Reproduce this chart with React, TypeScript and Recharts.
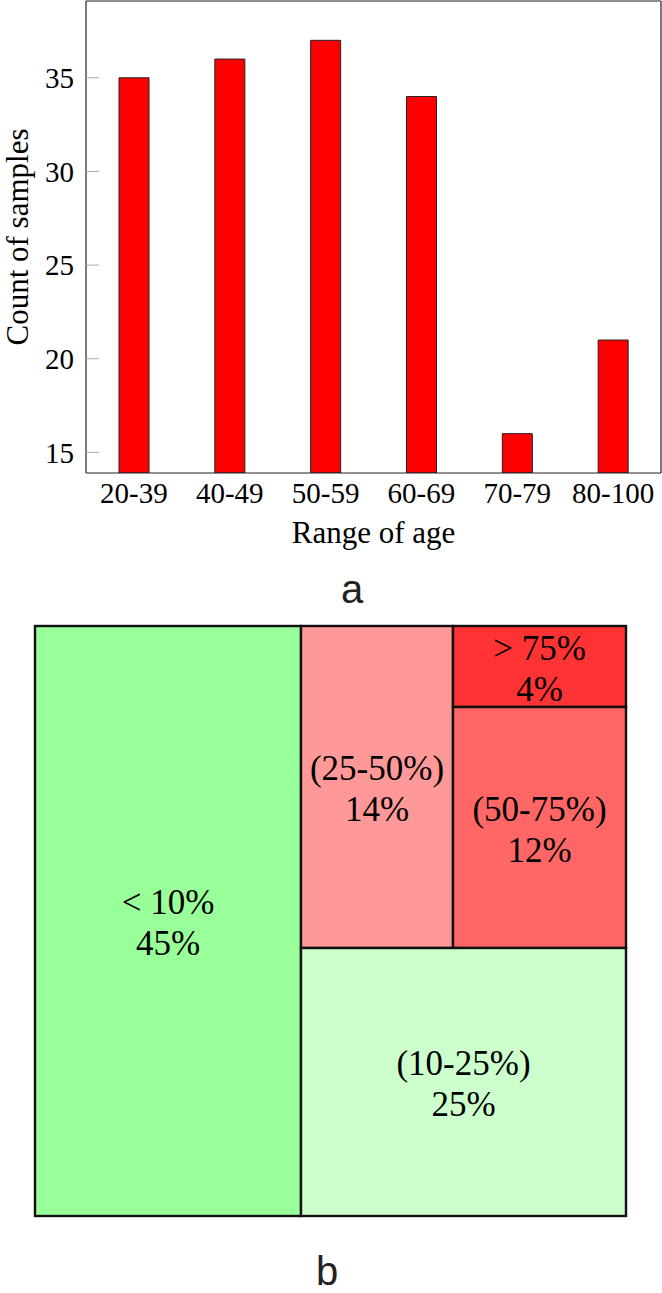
import React from 'react';
import { BarChart, Bar, XAxis, YAxis, Treemap } from 'recharts';

// ---- data: panel a ----
const ageRanges = ['20-39', '40-49', '50-59', '60-69', '70-79', '80-100'];
const sampleCounts = [35, 36, 37, 34, 16, 21];
const yTicks = [15, 20, 25, 30, 35];
const yDomain: [number, number] = [13.9, 39.1];

// ---- data: panel b ----
const treeLabels = ['< 10%', '(10-25%)', '(25-50%)', '(50-75%)', '> 75%'];
const treeShares = [45, 25, 14, 12, 4];

// ---- styles ----
const SERIF = "'Liberation Serif', 'Times New Roman', serif";
const SANS = "'Liberation Sans', Arial, sans-serif";
const TREE_FILL: Record<string, string> = {
  '< 10%': '#99FF99',
  '(10-25%)': '#CCFFCC',
  '(25-50%)': '#FF9999',
  '(50-75%)': '#FF6666',
  '> 75%': '#FF3333',
};

const barData = ageRanges.map((cat, i) => ({ cat, count: sampleCounts[i] }));

const leaf = (i: number) => ({ name: treeLabels[i], value: treeShares[i] });
const treeData = [
  leaf(0),
  {
    name: 'rest',
    children: [
      { name: 'upper', children: [leaf(2), { name: 'high', children: [leaf(4), leaf(3)] }] },
      leaf(1),
    ],
  },
];

const YLabel = (props: any) => {
  const vb = props.viewBox || { x: 0, y: 1, width: 86, height: 472 };
  const x = vb.x + 28;
  const y = vb.y + vb.height / 2;
  return (
    <text
      x={x}
      y={y}
      transform={`rotate(-90 ${x} ${y})`}
      textAnchor="middle"
      fontFamily={SERIF}
      fontSize={31}
      fill="#000"
    >
      Count of samples
    </text>
  );
};

const TreeCell = (props: any) => {
  const { x, y, width, height, name, value, depth, children } = props;
  if (!depth || (children && children.length)) return <g />;
  const cx = x + width / 2;
  const cy = y + height / 2;
  return (
    <g>
      <rect x={x} y={y} width={width} height={height} fill={TREE_FILL[name] || '#ccc'} stroke="#111" strokeWidth={2.4} />
      <text x={cx} y={cy - 7} textAnchor="middle" fontFamily={SERIF} fontSize={35} fill="#000">
        {name}
      </text>
      <text x={cx} y={cy + 34} textAnchor="middle" fontFamily={SERIF} fontSize={35} fill="#000">
        {`${value}%`}
      </text>
    </g>
  );
};

const tickStyle = { fill: '#000', fontSize: 29, fontFamily: SERIF };

export default function App() {
  return (
    <div style={{ position: 'absolute', left: 0, top: 0, width: 662, height: 1293, background: '#fff' }}>
      <style>{`.recharts-surface{overflow:visible}`}</style>
      <div style={{ position: 'absolute', left: 0, top: 0 }}>
        <BarChart width={662} height={560} data={barData} margin={{ top: 0, right: 0, bottom: 0, left: 0 }}>
          <XAxis
            dataKey="cat"
            xAxisId="b"
            height={87}
            interval={0}
            tickSize={0}
            tickMargin={9}
            tickLine={false}
            axisLine={{ stroke: '#222', strokeWidth: 1.2 }}
            tick={tickStyle}
            label={{ value: 'Range of age', position: 'insideBottom', offset: 17, fill: '#000', fontSize: 31, fontFamily: SERIF }}
          />
          <XAxis
            dataKey="cat"
            xAxisId="t"
            orientation="top"
            height={1}
            interval={0}
            tick={false}
            tickSize={-13}
            tickLine={{ stroke: '#aaa' }}
            axisLine={{ stroke: '#222', strokeWidth: 1.2 }}
          />
          <YAxis
            yAxisId="l"
            type="number"
            width={86}
            domain={yDomain}
            ticks={yTicks}
            allowDataOverflow
            tickSize={-13}
            tickMargin={25}
            tickLine={{ stroke: '#aaa' }}
            axisLine={{ stroke: '#222', strokeWidth: 1.2 }}
            tick={tickStyle}
            label={YLabel}
          />
          <YAxis
            yAxisId="r"
            type="number"
            orientation="right"
            width={1}
            domain={yDomain}
            ticks={yTicks}
            allowDataOverflow
            tick={false}
            tickSize={-13}
            tickLine={{ stroke: '#aaa' }}
            axisLine={{ stroke: '#222', strokeWidth: 1.2 }}
          />
          <Bar
            dataKey="count"
            xAxisId="b"
            yAxisId="l"
            barSize={30}
            fill="#FF0000"
            stroke="#222"
            strokeWidth={1}
            isAnimationActive={false}
          />
        </BarChart>
      </div>
      <div style={{ position: 'absolute', left: 35, top: 626 }}>
        <Treemap
          width={591}
          height={590}
          data={treeData}
          dataKey="value"
          aspectRatio={0.8}
          isAnimationActive={false}
          content={<TreeCell />}
        />
      </div>
      <svg width={662} height={1293} style={{ position: 'absolute', left: 0, top: 0, pointerEvents: 'none' }}>
        <text x={352} y={603} textAnchor="middle" fontFamily={SANS} fontSize={40} fill="#222">a</text>
        <text x={327} y={1285} textAnchor="middle" fontFamily={SANS} fontSize={40} fill="#222">b</text>
      </svg>
    </div>
  );
}
